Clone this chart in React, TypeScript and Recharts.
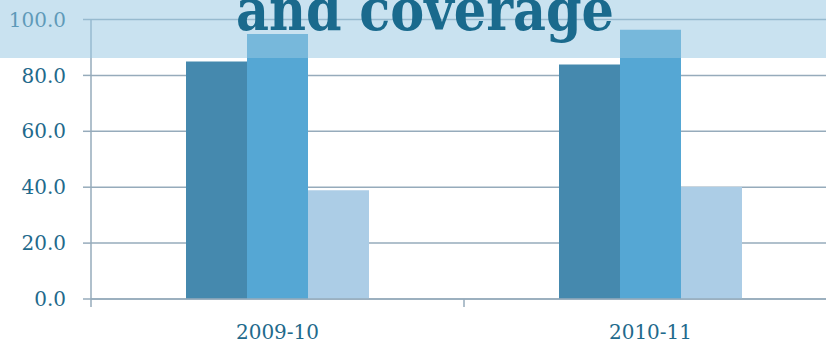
import { BarChart, Bar, XAxis, YAxis, CartesianGrid } from "recharts";

const categories = ["2009-10", "2010-11"];
const seriesA = [85.0, 83.9];
const seriesB = [94.8, 96.3];
const seriesC = [38.9, 40.1];
const yTicks = [0, 20, 40, 60, 80, 100];
const title = "and coverage";

const data = categories.map((period, i) => ({
  period,
  a: seriesA[i],
  b: seriesB[i],
  c: seriesC[i],
}));

const AXIS = "#96abbb";
const INK = "#1f6a8c";
const FONT = "'DejaVu Serif', serif";
const TICK = 8;
const GAP = 18;

// category label plus a tick mark on the left band edge
function PeriodTick(props: any) {
  const { x, y, payload } = props;
  const axisY = y - TICK - GAP;
  const edge = x - (payload.offset ?? 0);
  return (
    <g>
      <line x1={edge} x2={edge} y1={axisY} y2={axisY + TICK} stroke={AXIS} strokeWidth={1.5} />
      <text x={x} y={y} dy="0.72em" textAnchor="middle" fill={INK} fontSize={20} fontFamily={FONT}>
        {payload.value}
      </text>
    </g>
  );
}

export default function App() {
  return (
    <div
      style={{
        position: "absolute",
        left: 0,
        top: 0,
        width: 826,
        height: 345,
        overflow: "hidden",
        background: "#fff",
      }}
    >
      <BarChart
        width={840}
        height={345}
        data={data}
        margin={{ top: 19.5, right: 3, bottom: 0, left: 0 }}
        barGap={0}
        barSize={61}
      >
        <CartesianGrid vertical={false} stroke={AXIS} strokeWidth={1.5} />
        <XAxis
          dataKey="period"
          height={46}
          interval={0}
          axisLine={{ stroke: AXIS, strokeWidth: 1.5 }}
          tickLine={false}
          tickSize={TICK}
          tickMargin={GAP}
          tick={<PeriodTick />}
        />
        <YAxis
          width={91}
          domain={[0, 100]}
          ticks={yTicks}
          interval={0}
          tickFormatter={(v: number) => v.toFixed(1)}
          axisLine={{ stroke: AXIS, strokeWidth: 1.5 }}
          tickLine={{ stroke: AXIS, strokeWidth: 1.5 }}
          tickSize={TICK}
          tickMargin={17}
          tick={{ fill: INK, fontSize: 20, fontFamily: FONT }}
        />
        <Bar dataKey="a" fill="#4589ae" isAnimationActive={false} />
        <Bar dataKey="b" fill="#55a7d4" isAnimationActive={false} />
        <Bar dataKey="c" fill="#accde6" isAnimationActive={false} />
      </BarChart>
      <svg style={{ position: "absolute", left: 0, top: 0 }} width={826} height={58}>
        <rect width={826} height={58} fill="rgba(151,199,226,0.52)" />
        <text
          x={425}
          y={30}
          textAnchor="middle"
          fill="#1a6a8d"
          fontSize={58}
          fontWeight="bold"
          fontFamily={FONT}
          textLength={378}
          lengthAdjust="spacingAndGlyphs"
        >
          {title}
        </text>
      </svg>
    </div>
  );
}
